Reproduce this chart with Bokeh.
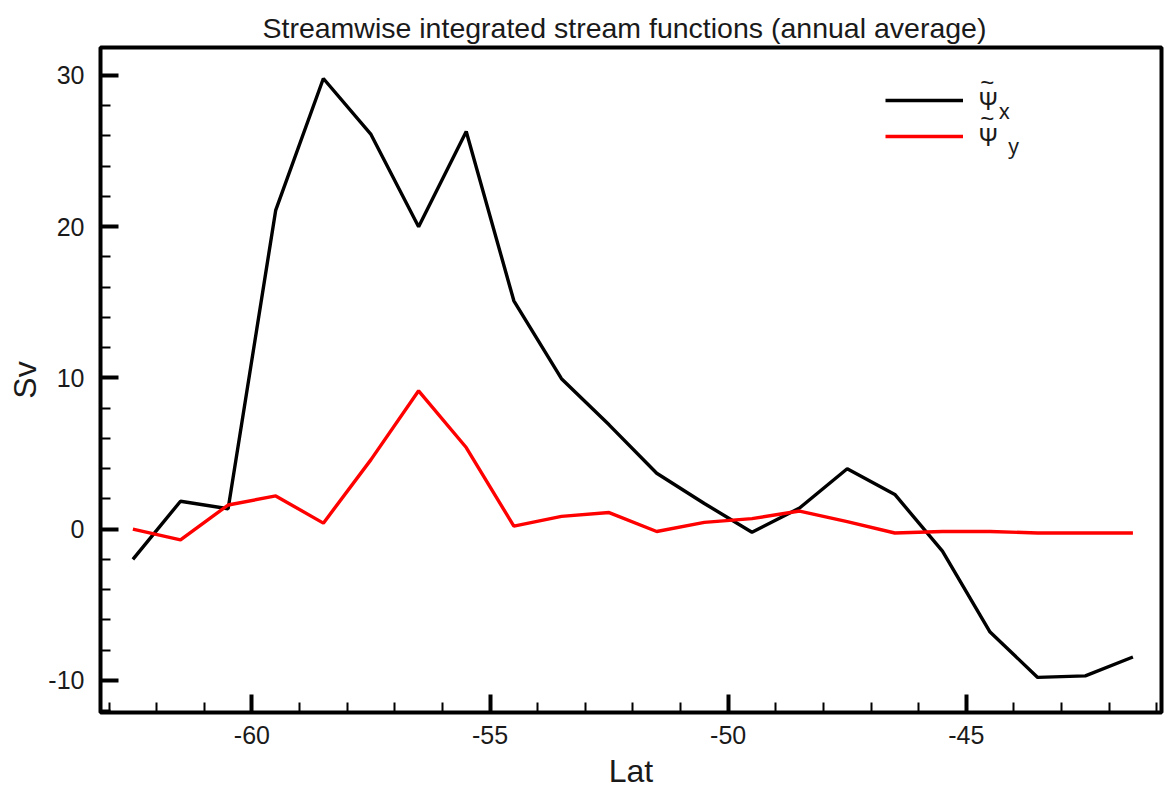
from bokeh.plotting import figure
from bokeh.models import FixedTicker, Range1d, Legend, LegendItem, Label, PrintfTickFormatter
from bokeh.embed import file_html
from bokeh.resources import INLINE

# ---- data ----
lat = [-62.5, -61.5, -60.5, -59.5, -58.5, -57.5, -56.5, -55.5, -54.5, -53.5, -52.5,
       -51.5, -50.5, -49.5, -48.5, -47.5, -46.5, -45.5, -44.5, -43.5, -42.5, -41.5]
psi_x = [-2.0, 1.85, 1.35, 21.1, 29.8, 26.1, 20.0, 26.3, 15.1, 9.95, 6.9,
         3.7, 1.7, -0.2, 1.4, 4.0, 2.3, -1.45, -6.8, -9.8, -9.7, -8.45]
psi_y = [0.0, -0.7, 1.6, 2.2, 0.4, 4.6, 9.15, 5.4, 0.2, 0.85, 1.1,
         -0.15, 0.45, 0.7, 1.2, 0.5, -0.25, -0.15, -0.15, -0.25, -0.25, -0.25]
x_major = [-60, -55, -50, -45]
x_minor = list(range(-63, -40))
y_major = [-10, 0, 10, 20, 30]
y_minor = list(range(-12, 32, 2))
title_text = "Streamwise integrated stream functions (annual average)"
x_label = "Lat"
y_label = "Sv"
legend_base = "\u03a8"
legend_accent = "~"
subscripts = ["x", "y"]

FONT = "Liberation Sans"
TXT = "#1a1a1a"

p = figure(width=1172, height=797, output_backend="svg", toolbar_location=None,
           x_range=Range1d(-63.18, -40.9), y_range=Range1d(-12.12, 31.85),
           min_border_left=100, min_border_right=11, min_border_top=47,
           min_border_bottom=85, title=title_text)

p.title.text_font = FONT
p.title.text_font_size = "28.5px"
p.title.text_font_style = "normal"
p.title.text_color = TXT
p.title.align = "left"
p.title.offset = 162
p.title.standoff = 8

p.outline_line_color = "black"
p.outline_line_width = 4
p.outline_line_alpha = 1
p.xgrid.visible = False
p.ygrid.visible = False
p.background_fill_color = "white"
p.border_fill_color = "white"

p.xaxis.ticker = FixedTicker(ticks=x_major, minor_ticks=x_minor)
p.yaxis.ticker = FixedTicker(ticks=y_major, minor_ticks=y_minor)
p.xaxis.formatter = PrintfTickFormatter(format="%d")
p.yaxis.formatter = PrintfTickFormatter(format="%d")

for ax in (p.xaxis[0], p.yaxis[0]):
    ax.axis_line_width = 3
    ax.axis_line_color = "black"
    ax.major_tick_line_width = 4
    ax.major_tick_line_color = "black"
    ax.minor_tick_line_width = 2
    ax.minor_tick_line_color = "black"
    ax.major_tick_in = 18
    ax.major_tick_out = 0
    ax.minor_tick_in = 10
    ax.minor_tick_out = 0
    ax.major_label_text_font = FONT
    ax.major_label_text_font_size = "25px"
    ax.major_label_text_color = TXT
    ax.axis_label_text_font = FONT
    ax.axis_label_text_font_size = "32px"
    ax.axis_label_text_font_style = "normal"
    ax.axis_label_text_color = TXT

p.xaxis.axis_label = x_label
p.yaxis.axis_label = y_label
p.xaxis.major_label_standoff = 13
p.yaxis.major_label_standoff = 16
p.xaxis.axis_label_standoff = 6
p.yaxis.axis_label_standoff = 2

r1 = p.line(lat, psi_x, line_color="black", line_width=3.4)
r2 = p.line(lat, psi_y, line_color="#ff0000", line_width=3.4)

legend = Legend(items=[LegendItem(label=legend_base, renderers=[r1]),
                       LegendItem(label=legend_base, renderers=[r2])],
                location=(785, 558), glyph_width=78, glyph_height=36,
                label_height=36, spacing=0, padding=0, margin=0,
                label_standoff=15, label_text_font="Noto Sans",
                label_text_font_size="25px", label_text_color=TXT,
                background_fill_alpha=0, border_line_alpha=0)
p.add_layout(legend, "center")

accent_pos = [(-44.56, 29.55), (-44.56, 27.15)]
for ax_, ay_ in accent_pos:
    p.add_layout(Label(x=ax_, y=ay_, text=legend_accent, text_font=FONT,
                       text_font_size="24px", text_color=TXT,
                       text_baseline="middle", text_align="center"))

sub_pos = [(-44.32, 27.65), (-44.12, 25.35)]
for s, (sx, sy) in zip(subscripts, sub_pos):
    p.add_layout(Label(x=sx, y=sy, text=s, text_font="Noto Sans",
                       text_font_size="21px", text_color=TXT,
                       text_baseline="alphabetic", text_align="left"))

open("out.html", "w").write(file_html(p, INLINE))
